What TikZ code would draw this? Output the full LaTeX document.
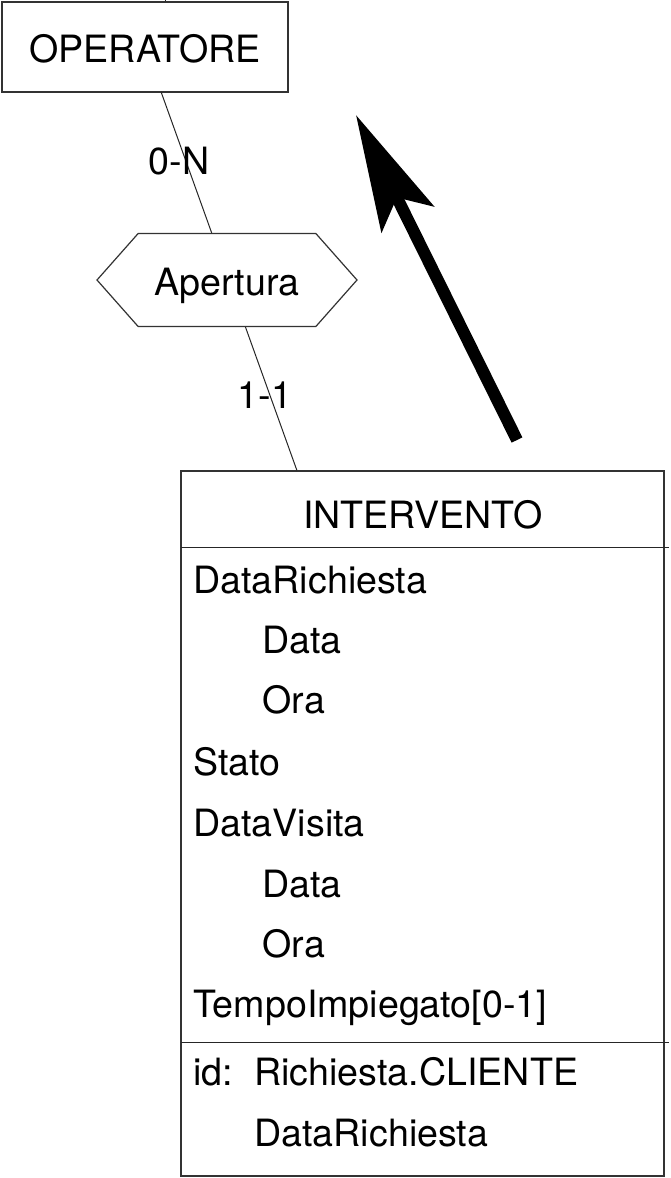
\documentclass[tikz,border=0pt]{standalone}
\usepackage{fontspec}
\setmainfont{TeX Gyre Heros}
\usetikzlibrary{shapes.symbols,arrows.meta}

\begin{document}
\begin{tikzpicture}[x=0.5pt, y=-0.5pt,
  every node/.style={font=\fontsize{18.8}{22}\selectfont, text height=15.7pt, text depth=0pt},
  entity/.style={draw=black!80, line width=0.6pt, fill=white},
  relation/.style={draw=black!80, line width=0.6pt, fill=white, signal, signal to=west and east,
    signal pointer angle=97, minimum width=130pt, minimum height=46.5pt, inner sep=0pt},
  link/.style={draw=black!85, line width=0.5pt},
  attr/.style={anchor=west, inner sep=0pt}]
  \useasboundingbox (0,0) rectangle (670,1178);

  \node[entity,minimum width=143pt,minimum height=45pt] (operatore) at (145,47) {OPERATORE};
  \node[entity,minimum width=241.5pt,minimum height=352.5pt] (intervento) at (422.5,823.5) {};
  \node (titolo) at (423,513) {INTERVENTO};

  % collegamento OPERATORE - INTERVENTO, sotto la relazione
  \draw[link] (operatore) -- (intervento)
    node[pos=0.175,xshift=-3pt,inner sep=0pt] (cardop) {0-N}
    node[pos=0.794,xshift=-2pt,inner sep=0pt] (cardint) {1-1};
  \node[relation] (apertura) at (227,280) {Apertura};

  \coordinate (bordo) at (165,0);
  \draw[link] (bordo) -- (bordo |- operatore.north);

  % separatori dell'entita
  \draw[link] (181,547) -- (669,547);
  \draw[link] (181,1042) -- (669,1042);

  % attributi
  \foreach \txt/\xx/\yy in {DataRichiesta/193/578, Data/262/638, Ora/262/698, Stato/193/760,
      DataVisita/193/821, Data/262/882, Ora/262/942, {TempoImpiegato[0-1]}/193/1002}
    \node[attr] (attr-\yy) at (\xx,\yy) {\txt};

  % identificatore
  \node[attr] (idlabel) at (193,1070) {id:};
  \node[attr] (idcliente) at (254,1070) {Richiesta.CLIENTE};
  \node[attr] (iddata) at (254,1131) {DataRichiesta};

  % freccia
  \coordinate (freccia-coda) at (517,440);
  \coordinate (freccia-punta) at (356,115);
  \draw[line width=6pt,-{Stealth[length=58pt,width=29pt,inset=12pt]}] (freccia-coda) -- (freccia-punta);
\end{tikzpicture}
\end{document}
